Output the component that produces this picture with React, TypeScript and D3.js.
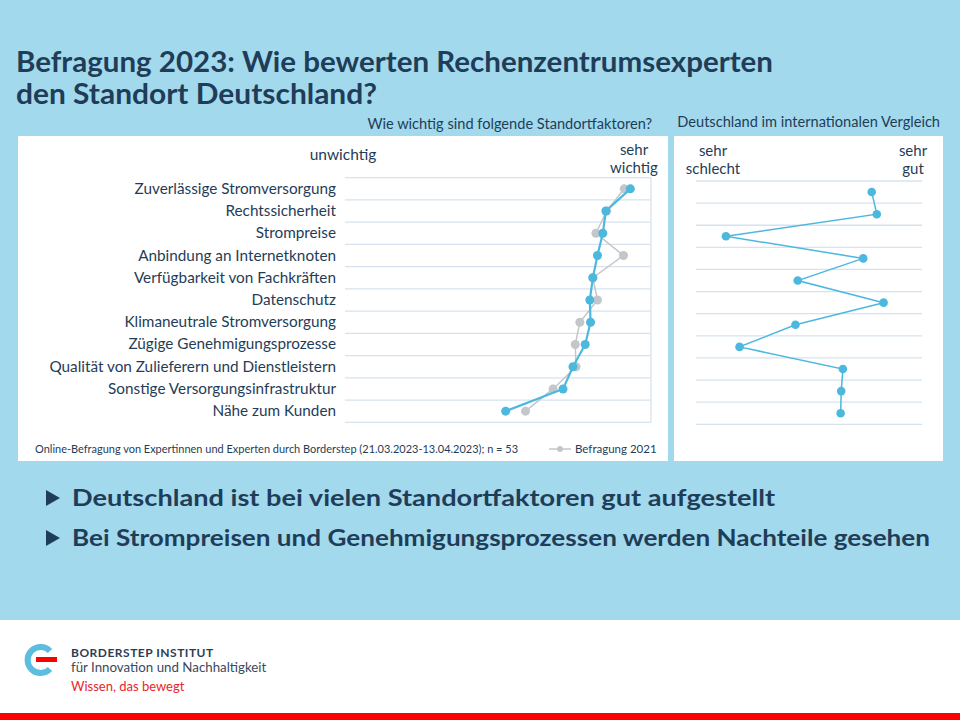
import React from 'react';
import * as d3 from 'd3';

// Standortfaktoren, von oben nach unten
const factors = [
  'Zuverlässige Stromversorgung',
  'Rechtssicherheit',
  'Strompreise',
  'Anbindung an Internetknoten',
  'Verfügbarkeit von Fachkräften',
  'Datenschutz',
  'Klimaneutrale Stromversorgung',
  'Zügige Genehmigungsprozesse',
  'Qualität von Zulieferern und Dienstleistern',
  'Sonstige Versorgungsinfrastruktur',
  'Nähe zum Kunden',
];
// Wichtigkeit 1 (unwichtig) .. 5 (sehr wichtig)
const importance2023 = [4.73, 4.41, 4.37, 4.3, 4.24, 4.2, 4.21, 4.14, 3.98, 3.85, 3.1];
const importance2021 = [4.65, 4.42, 4.28, 4.64, 4.24, 4.3, 4.07, 4.01, 4.02, 3.72, 3.36];
// Deutschland im Vergleich 1 (sehr schlecht) .. 5 (sehr gut)
const comparison = [4.11, 4.2, 1.53, 3.96, 2.8, 4.32, 2.76, 1.77, 3.6, 3.57, 3.56];

const bullets = [
  'Deutschland ist bei vielen Standortfaktoren gut aufgestellt',
  'Bei Strompreisen und Genehmigungsprozessen werden Nachteile gesehen',
];

const BG = '#a3d9ec';
const DARK = '#1f3d58';
const BLUE = '#4db8de';
const GRAY = '#c3c6ca';
const GRID = '#d6e3ee';
const FONT = 'Lato, "Open Sans", sans-serif';

export default function App() {
  const yL = d3.scaleBand<string>().domain(factors).range([177.7, 422.3]);
  const xL = d3.scaleLinear().domain([1, 5]).range([345, 651]);
  const yR = d3.scaleBand<string>().domain(factors).range([181, 424.3]);
  const xR = d3.scaleLinear().domain([1, 5]).range([696, 922]);

  const gridL = d3.range(factors.length + 1).map((i) => yL.range()[0] + i * yL.step());
  const gridR = d3.range(factors.length + 1).map((i) => yR.range()[0] + i * yR.step());

  const cy = (s: d3.ScaleBand<string>, f: string) => (s(f) as number) + s.bandwidth() / 2;

  const lineL = (vals: number[]) =>
    d3.line<number>().x((v) => xL(v)).y((_, i) => cy(yL, factors[i]))(vals) || '';
  const lineR =
    d3.line<number>().x((v) => xR(v)).y((_, i) => cy(yR, factors[i]))(comparison) || '';

  return (
    <svg
      width={960}
      height={720}
      style={{ position: 'absolute', left: 0, top: 0, display: 'block' }}
      fontFamily={FONT}
    >
      <rect x={0} y={0} width={960} height={620} fill={BG} />
      <rect x={0} y={620} width={960} height={93} fill="#ffffff" />
      <rect x={0} y={713} width={960} height={7} fill="#ff0000" />

      {/* Titel */}
      <text x={16} y={72} fill={DARK} fontSize={28} fontWeight={700} textLength={757} lengthAdjust="spacingAndGlyphs">
        Befragung 2023: Wie bewerten Rechenzentrumsexperten
      </text>
      <text x={16} y={104} fill={DARK} fontSize={28} fontWeight={700} textLength={361} lengthAdjust="spacingAndGlyphs">
        den Standort Deutschland?
      </text>

      {/* Panel-Überschriften */}
      <text x={652} y={129} fill={DARK} fontSize={14.6} textAnchor="end">
        Wie wichtig sind folgende Standortfaktoren?
      </text>
      <text x={940} y={127} fill={DARK} fontSize={14.6} textAnchor="end">
        Deutschland im internationalen Vergleich
      </text>

      {/* linkes Panel */}
      <rect x={18} y={136} width={650} height={325} fill="#ffffff" />
      <text x={343} y={160} fill={DARK} fontSize={15.5} textAnchor="middle">unwichtig</text>
      <text x={634} y={155} fill={DARK} fontSize={15} textAnchor="middle">sehr</text>
      <text x={634} y={173} fill={DARK} fontSize={15} textAnchor="middle">wichtig</text>
      {gridL.map((g, i) => (
        <line key={i} x1={345} x2={651} y1={g} y2={g} stroke={GRID} strokeWidth={1.3} />
      ))}
      <line x1={651} x2={651} y1={gridL[0]} y2={gridL[gridL.length - 1]} stroke={GRID} strokeWidth={1.3} />
      {factors.map((f) => (
        <text key={f} x={336} y={cy(yL, f) + 5} fill={DARK} fontSize={15.3} textAnchor="end">
          {f}
        </text>
      ))}
      <path d={lineL(importance2021)} fill="none" stroke={GRAY} strokeWidth={1.5} />
      {importance2021.map((v, i) => (
        <circle key={i} cx={xL(v)} cy={cy(yL, factors[i])} r={4.5} fill={GRAY} />
      ))}
      <path d={lineL(importance2023)} fill="none" stroke={BLUE} strokeWidth={2.2} />
      {importance2023.map((v, i) => (
        <circle key={i} cx={xL(v)} cy={cy(yL, factors[i])} r={4.5} fill={BLUE} />
      ))}
      <text x={35} y={453} fill={DARK} fontSize={11} textLength={483} lengthAdjust="spacingAndGlyphs">
        Online-Befragung von Expertinnen und Experten durch Borderstep (21.03.2023-13.04.2023); n = 53
      </text>
      <line x1={549} x2={571} y1={449} y2={449} stroke={GRAY} strokeWidth={1.5} />
      <circle cx={560} cy={449} r={3} fill={GRAY} />
      <text x={575} y={453} fill={DARK} fontSize={11.5}>Befragung 2021</text>

      {/* rechtes Panel */}
      <rect x={674} y={136} width={269} height={325} fill="#ffffff" />
      <text x={713} y={156} fill={DARK} fontSize={15} textAnchor="middle">sehr</text>
      <text x={713} y={174} fill={DARK} fontSize={15} textAnchor="middle">schlecht</text>
      <text x={913} y={156} fill={DARK} fontSize={15} textAnchor="middle">sehr</text>
      <text x={913} y={174} fill={DARK} fontSize={15} textAnchor="middle">gut</text>
      {gridR.map((g, i) => (
        <line key={i} x1={696} x2={922} y1={g} y2={g} stroke={GRID} strokeWidth={1.3} />
      ))}
      <path d={lineR} fill="none" stroke={BLUE} strokeWidth={1.5} />
      {comparison.map((v, i) => (
        <circle key={i} cx={xR(v)} cy={cy(yR, factors[i])} r={4.3} fill={BLUE} />
      ))}

      {/* Kernaussagen */}
      {bullets.map((b, i) => (
        <g key={b} transform={`translate(0, ${498 + i * 40})`}>
          <path d="M46,-8 L60,0 L46,8 Z" fill={DARK} />
          <text x={72} y={8} fill={DARK} fontSize={22} fontWeight={700}
            textLength={i === 0 ? 703 : 858} lengthAdjust="spacingAndGlyphs">
            {b}
          </text>
        </g>
      ))}

      {/* Logo */}
      <path d="M50,651 A13,13 0 1,0 50,669" fill="none" stroke="#5bbde0" strokeWidth={6} />
      <rect x={36} y={657} width={21} height={5} fill="#ff0000" />
      <text x={71} y={657} fill="#2c3e55" fontSize={12} fontWeight={700} letterSpacing={0.5}>BORDERSTEP INSTITUT</text>
      <text x={71} y={672} fill="#3a4a5c" fontSize={13.3}>für Innovation und Nachhaltigkeit</text>
      <text x={71} y={691} fill="#e8262b" fontSize={13}>Wissen, das bewegt</text>
    </svg>
  );
}
